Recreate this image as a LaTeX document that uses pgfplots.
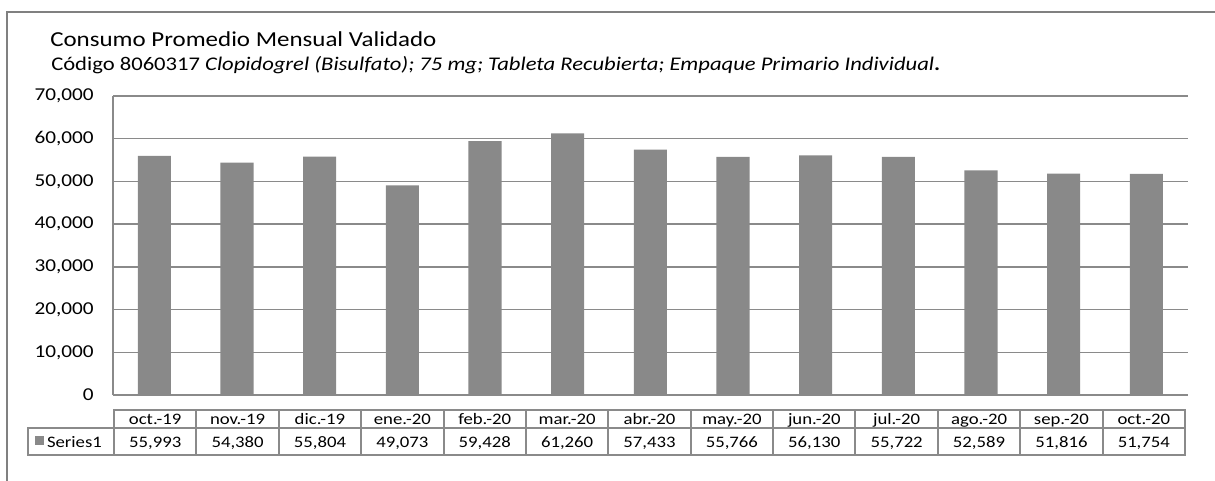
\documentclass[border=0pt]{standalone}
\usepackage{fontspec}
\setmainfont{Carlito}[FakeStretch=1.17]
\usepackage{pgfplots}
\pgfplotsset{compat=1.18}
\usepackage{pgfplotstable}
\definecolor{bargray}{HTML}{898989}
\definecolor{linegray}{HTML}{8A8A8A}
\definecolor{framegray}{HTML}{808080}
\pgfplotstableread{
x mes val
0 oct.-19 55993
1 nov.-19 54380
2 dic.-19 55804
3 ene.-20 49073
4 feb.-20 59428
5 mar.-20 61260
6 abr.-20 57433
7 may.-20 55766
8 jun.-20 56130
9 jul.-20 55722
10 ago.-20 52589
11 sep.-20 51816
12 oct.-20 51754
}\datatable
\begin{document}
\begin{tikzpicture}
\begin{scope}[x=0.75pt,y=-0.75pt]
\path[use as bounding box] (0,0) rectangle (1215,481);
\draw[framegray, line width=1.5pt] (7,481) -- (7,12) -- (1215,12);
\node[anchor=west, inner sep=0pt, font=\fontsize{16}{19}\selectfont] at (50,39) {Consumo Promedio Mensual Validado};
\node[anchor=west, inner sep=0pt, font=\fontsize{14.5}{17}\selectfont] at (51,65) {Código 8060317 \textit{Clopidogrel (Bisulfato); 75 mg; Tableta Recubierta; Empaque Primario Individual}\textbf{.}};
\end{scope}
\begin{axis}[
  at={(113*0.75pt,-395*0.75pt)}, anchor=south west,
  scale only axis, width=806pt, height=224.25pt,
  xmin=-0.5, xmax=12.5, ymin=0, ymax=70000,
  ytick={0,10000,...,70000}, xtick=\empty,
  axis x line*=bottom, axis y line*=left,
  axis line style={linegray, line width=1.1pt, -},
  ymajorgrids, major grid style={linegray, line width=1.1pt},
  major tick length=0pt,
  scaled y ticks=false,
  yticklabel style={font=\fontsize{13.6}{16}\selectfont, /pgf/number format/.cd, 1000 sep={,}, assume math mode=true},
  yticklabel shift=11pt,
  clip=false,
]
\addplot[ybar, bar width=0.4, fill=bargray, draw=none] table[x=x, y=val] {\datatable};
\end{axis}
\begin{scope}[x=0.75pt,y=-0.75pt, linegray, line width=1.5pt]
\draw (114,410) rectangle (1185,455);
\draw (28,428) -- (1185,428);
\draw (28,428) rectangle (114,455);
\foreach \k in {1,...,12} {
  \draw ({114+\k*(1185-114)/13},410) -- ({114+\k*(1185-114)/13},455);
}
\fill[bargray] (35,436) rectangle (44,445);
\node[black, anchor=base west, inner sep=0pt, font=\fontsize{12}{14}\selectfont] at (46,447) {Series1};
\foreach \k in {0,...,12} {
  \pgfplotstablegetelem{\k}{mes}\of\datatable
  \node[black, anchor=base, inner sep=0pt, font=\fontsize{12}{14}\selectfont] at ({114+(\k+0.5)*(1185-114)/13},424) {\pgfplotsretval};
  \pgfplotstablegetelem{\k}{val}\of\datatable
  \node[black, anchor=base, inner sep=0pt, font=\fontsize{12}{14}\selectfont] at ({114+(\k+0.5)*(1185-114)/13},447) {\pgfmathprintnumber[1000 sep={,}, assume math mode=true]{\pgfplotsretval}};
}
\end{scope}
\end{tikzpicture}
\end{document}
